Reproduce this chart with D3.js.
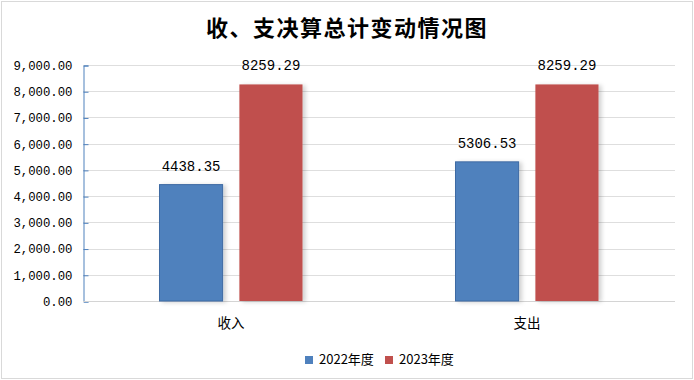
<!DOCTYPE html>
<html><head><meta charset="utf-8">
<script src="https://cdn.jsdelivr.net/npm/d3@7"></script>
<style>body{margin:0;background:#fff}svg{display:block}</style>
</head><body><svg id="c" width="694" height="380"></svg>
<script>
const categories = ["收入", "支出"];
const seriesNames = ["2022年度", "2023年度"];
const values2022 = [4438.35, 5306.53];
const values2023 = [8259.29, 8259.29];
const yTicks = [0, 1000, 2000, 3000, 4000, 5000, 6000, 7000, 8000, 9000];
const colors = ["#4F81BD", "#C0504D"];
const title = "收、支决算总计变动情况图";

const svg = d3.select("#c");
const W = 694, H = 380;
const m = {l: 83, r: 19, t: 65, b: 79};
const defs = svg.append("defs");
const f = defs.append("filter").attr("id","sh").attr("x","-20%").attr("y","-5%").attr("width","150%").attr("height","110%");
f.append("feDropShadow").attr("dx",3).attr("dy",1).attr("stdDeviation",2).attr("flood-color","#000").attr("flood-opacity",0.18);

svg.append("rect").attr("x",1.5).attr("y",1.5).attr("width",W-3).attr("height",H-3)
  .attr("fill","#fff").attr("stroke","#d9d9d9").attr("stroke-width",1);

svg.append("text").attr("x",347).attr("y",36).attr("text-anchor","middle")
  .attr("font-family","'Noto Sans CJK SC', sans-serif").attr("font-weight","bold")
  .attr("font-size",22).attr("letter-spacing",1.5).attr("fill","#000").text(title);

const x0 = d3.scaleBand().domain(categories).range([m.l, W-m.r]).paddingInner(0).paddingOuter(0);
const y = d3.scaleLinear().domain([0, 9000]).range([H-m.b, m.t]);
const inner = d3.scaleBand().domain(seriesNames).range([0, 143]).paddingInner(0.21).paddingOuter(0);

// grid
svg.append("g").selectAll("line").data(yTicks.slice(1)).join("line")
  .attr("x1",m.l).attr("x2",W-m.r).attr("y1",d=>Math.round(y(d))+0.5).attr("y2",d=>Math.round(y(d))+0.5)
  .attr("stroke","#dedede").attr("stroke-width",1);

// y axis
const yAxis = svg.append("g").attr("transform",`translate(${m.l+0.5},0.5)`)
  .call(d3.axisLeft(y).tickValues(yTicks).tickSize(-5).tickPadding(11).tickFormat(d3.format(",.2f")));
yAxis.select(".domain").attr("stroke","#4F81BD");
yAxis.selectAll(".tick line").attr("stroke","#4F81BD");
yAxis.selectAll(".tick text").attr("font-family","'Liberation Mono', monospace").attr("font-size",12.3).attr("fill","#000");

// x axis line
svg.append("line").attr("x1",m.l).attr("x2",W-m.r).attr("y1",H-m.b+0.5).attr("y2",H-m.b+0.5).attr("stroke","#d4d4d4");

const data = categories.map((c,i)=>({cat:c, vals:[values2022[i], values2023[i]]}));
const g = svg.append("g").selectAll("g").data(data).join("g")
  .attr("transform",d=>`translate(${x0(d.cat)+x0.bandwidth()/2-71.5},0)`);
g.selectAll("rect").data(d=>d.vals.map((v,j)=>({v,s:seriesNames[j],j}))).join("rect")
  .attr("x",d=>inner(d.s)).attr("width",inner.bandwidth())
  .attr("y",d=>y(d.v)).attr("height",d=>y(0)-y(d.v))
  .attr("fill",d=>colors[d.j]).attr("filter","url(#sh)")
  .attr("stroke",d=>d.j===0?"#3d6aa3":"none").attr("stroke-width",1);
g.selectAll("text").data(d=>d.vals.map((v,j)=>({v,s:seriesNames[j],j}))).join("text")
  .attr("x",d=>inner(d.s)+inner.bandwidth()/2).attr("y",d=>y(d.v)-14)
  .attr("text-anchor","middle").attr("font-family","'Liberation Mono', monospace").attr("font-size",14)
  .attr("fill","#000").text(d=>d3.format(".2f")(d.v));

// category labels
svg.append("g").selectAll("text").data(categories).join("text")
  .attr("x",d=>x0(d)+x0.bandwidth()/2).attr("y",328).attr("text-anchor","middle")
  .attr("font-family","'Noto Sans CJK SC', sans-serif").attr("font-size",13.5).attr("fill","#000").text(d=>d);

// legend
const lg = svg.append("g").attr("transform","translate(305,356)");
const items = [{x:0},{x:80}];
seriesNames.forEach((s,i)=>{
  const it = lg.append("g").attr("transform",`translate(${items[i].x},0)`);
  it.append("rect").attr("width",8).attr("height",8).attr("fill",colors[i]);
  it.append("text").attr("x",14).attr("y",8).attr("font-family","'Noto Sans CJK SC', sans-serif")
    .attr("font-size",13).attr("fill","#000").text(s);
});
</script></body></html>
